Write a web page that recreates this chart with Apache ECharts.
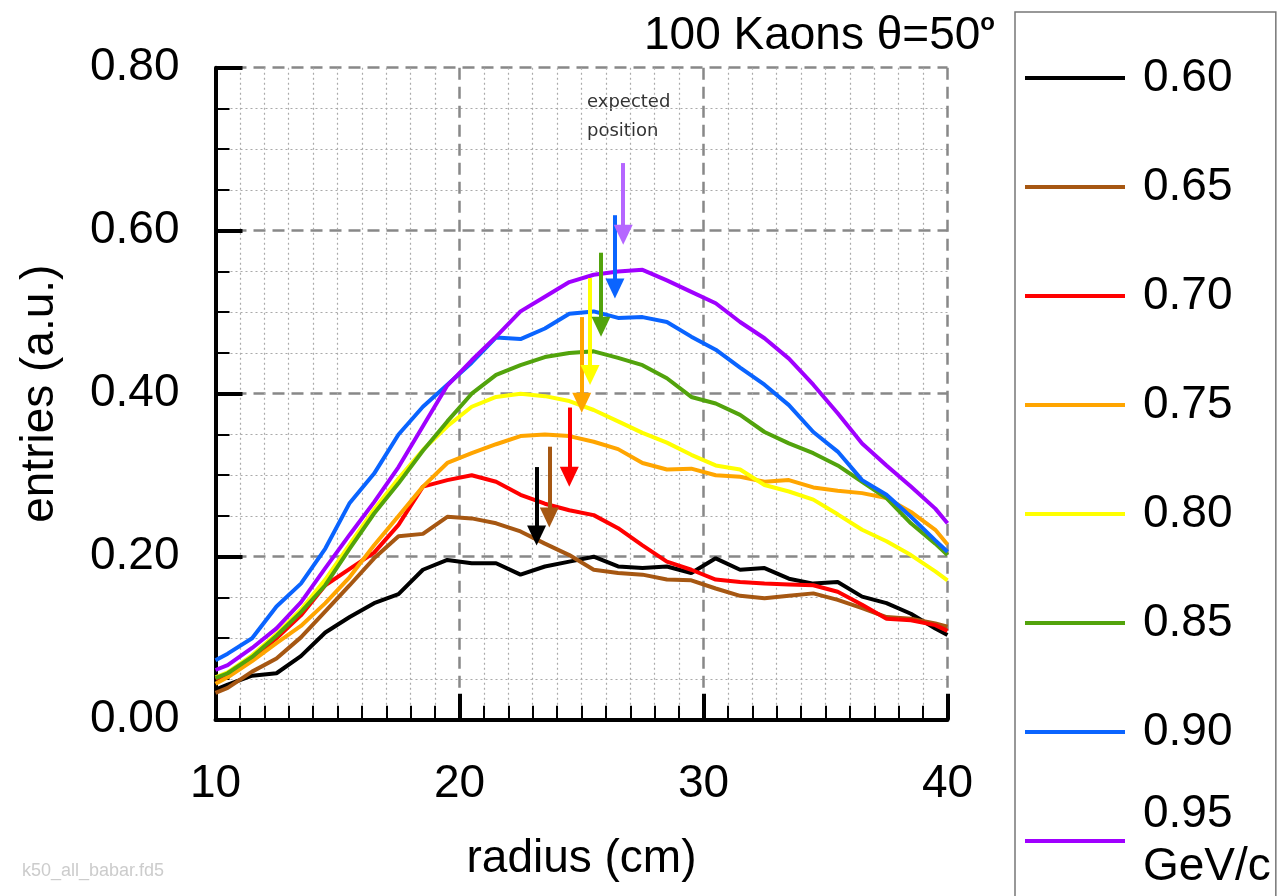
<!DOCTYPE html>
<html>
<head>
<meta charset="utf-8">
<script src="https://cdn.jsdelivr.net/npm/echarts@6/dist/echarts.min.js"></script>
<style>
html,body{margin:0;padding:0;background:#fff;}
#chart{width:1280px;height:896px;}
</style>
</head>
<body>
<div id="chart"></div>
<script>
// ---- data ----
const radius = [10,10.5,11.5,12.5,13.5,14.5,15.5,16.5,17.5,18.5,19.5,20.5,21.5,22.5,23.5,24.5,25.5,26.5,27.5,28.5,29.5,30.5,31.5,32.5,33.5,34.5,35.5,36.5,37.5,38.5,39.5,40];
const momenta = ['0.60','0.65','0.70','0.75','0.80','0.85','0.90','0.95'];
const unitLabel = 'GeV/c';
const p060 = [0.037,0.043,0.054,0.057,0.078,0.107,0.126,0.143,0.154,0.184,0.196,0.192,0.192,0.178,0.188,0.194,0.200,0.188,0.186,0.188,0.180,0.198,0.184,0.186,0.173,0.167,0.169,0.151,0.143,0.130,0.112,0.104];
const p065 = [0.033,0.039,0.059,0.075,0.101,0.133,0.165,0.198,0.225,0.228,0.249,0.247,0.241,0.231,0.216,0.202,0.184,0.180,0.178,0.172,0.171,0.161,0.152,0.149,0.152,0.155,0.147,0.137,0.126,0.124,0.118,0.114];
const p070 = [0.050,0.055,0.075,0.100,0.128,0.165,0.185,0.205,0.239,0.286,0.294,0.300,0.292,0.276,0.265,0.257,0.251,0.235,0.214,0.194,0.184,0.172,0.169,0.167,0.166,0.165,0.157,0.141,0.124,0.122,0.116,0.109];
const p075 = [0.044,0.052,0.072,0.094,0.115,0.143,0.175,0.214,0.250,0.286,0.315,0.327,0.338,0.348,0.350,0.348,0.341,0.332,0.315,0.307,0.308,0.300,0.298,0.292,0.294,0.285,0.281,0.278,0.272,0.255,0.233,0.215];
const p080 = [0.052,0.058,0.079,0.105,0.135,0.172,0.215,0.258,0.296,0.331,0.360,0.384,0.396,0.400,0.397,0.391,0.380,0.366,0.352,0.340,0.325,0.312,0.307,0.288,0.280,0.270,0.252,0.233,0.219,0.202,0.182,0.171];
const p085 = [0.051,0.057,0.077,0.103,0.132,0.165,0.210,0.253,0.290,0.330,0.366,0.400,0.423,0.435,0.445,0.450,0.452,0.444,0.435,0.419,0.396,0.388,0.374,0.353,0.339,0.327,0.312,0.292,0.272,0.241,0.216,0.202];
const p090 = [0.073,0.081,0.100,0.139,0.167,0.210,0.266,0.302,0.350,0.384,0.411,0.438,0.469,0.467,0.480,0.498,0.501,0.493,0.494,0.488,0.470,0.454,0.432,0.411,0.386,0.353,0.329,0.294,0.276,0.249,0.220,0.206];
const p095 = [0.061,0.067,0.088,0.112,0.144,0.186,0.227,0.267,0.310,0.360,0.410,0.441,0.470,0.501,0.519,0.537,0.546,0.550,0.552,0.539,0.525,0.511,0.488,0.468,0.443,0.411,0.376,0.339,0.312,0.286,0.259,0.241];
const seriesValues = [p060,p065,p070,p075,p080,p085,p090,p095];
// expected-position arrows (x in cm, shaft top and arrow end in entries)
const arrowX   = [23.16,23.68,24.50,25.01,25.35,25.80,26.37,26.71];
const arrowTop = [0.310,0.335,0.383,0.494,0.542,0.573,0.619,0.683];
const arrowEnd = [0.226,0.248,0.298,0.389,0.423,0.482,0.529,0.595];
const xTicks = [10,20,30,40];
const yTicks = [0.00,0.20,0.40,0.60,0.80];

// ---- style ----
const colors = ['#000000','#a65712','#ff0000','#ffa500','#ffff00','#52a30c','#0a64ff','#a000ff'];
const arrowColors = ['#000000','#a65712','#ff0000','#ffa500','#ffff00','#52a30c','#0a64ff','#b566ff'];
const FONT = "'Liberation Sans', Arial, sans-serif";

const chart = echarts.init(document.getElementById('chart'), null, {renderer:'canvas'});

const series = momenta.map((m, i) => ({
  name: m,
  type: 'line',
  data: radius.map((r, j) => [r, seriesValues[i][j]]),
  showSymbol: false,
  symbol: 'none',
  color: colors[i],
  lineStyle: {color: colors[i], width: 4},
  itemStyle: {color: colors[i]},
  clip: true,
  z: 2 + i * 0.01,
  animation: false,
  markLine: {
    silent: true,
    animation: false,
    symbol: ['none', 'triangle'],
    symbolSize: [19, 20],
    label: {show: false},
    lineStyle: {color: arrowColors[i], width: 4, type: 'solid'},
    itemStyle: {color: arrowColors[i]},
    emphasis: {disabled: true},
    data: [[{coord: [arrowX[i], arrowTop[i]]}, {coord: [arrowX[i], arrowEnd[i]]}]]
  }
}));

const legendData = momenta.map((m, i) => i === momenta.length - 1
  ? {name: m, textStyle: {lineHeight: 53, padding: [0, 0, 0, 13]}}
  : {name: m});

const option = {
  backgroundColor: '#ffffff',
  animation: false,
  title: {
    text: '{m|100 Kaons θ=50}{sup|o}',
    right: 280,
    top: 6,
    textStyle: {
      rich: {
        m: {fontSize: 46, fontFamily: FONT, color: '#000', fontWeight: 'normal', lineHeight: 50},
        sup: {fontSize: 24, fontFamily: FONT, color: '#000', verticalAlign: 'top', lineHeight: 24}
      }
    }
  },
  grid: {left: 215.5, top: 67.7, right: 332.5, bottom: 176.3, containLabel: false},
  legend: {
    orient: 'vertical',
    left: 1015,
    top: 12,
    height: 900,
    padding: [13, 5, 10, 10],
    borderColor: '#777',
    borderWidth: 1.5,
    itemWidth: 100,
    itemHeight: 4,
    itemGap: 3,
    itemTextGap: 18,
    icon: 'rect',
    selectedMode: false,
    data: legendData,
    formatter: function (name) {
      if (name === momenta[momenta.length - 1]) return name + '\n' + unitLabel;
      return name;
    },
    textStyle: {fontFamily: FONT, fontSize: 46, color: '#000', lineHeight: 106, padding: [0, 0, 0, 13]}
  },
  xAxis: {
    type: 'value',
    min: xTicks[0],
    max: xTicks[xTicks.length - 1],
    interval: 10,
    name: 'radius (cm)',
    nameLocation: 'middle',
    nameGap: 117,
    nameTextStyle: {fontFamily: FONT, fontSize: 46, color: '#000'},
    axisLine: {show: true, onZero: false, lineStyle: {color: '#000', width: 4}},
    axisTick: {show: true, inside: true, length: 26, lineStyle: {color: '#000', width: 4}},
    minorTick: {show: true, splitNumber: 10, length: 14, lineStyle: {color: '#000', width: 2}},
    axisLabel: {fontFamily: FONT, fontSize: 46, color: '#000', margin: 42,
      formatter: v => String(v)},
    splitLine: {show: true, lineStyle: {color: '#888', width: 2.5, type: [12, 7]}},
    minorSplitLine: {show: true, lineStyle: {color: '#aaa', width: 1.2, type: [2, 3]}}
  },
  yAxis: {
    type: 'value',
    min: yTicks[0],
    max: yTicks[yTicks.length - 1],
    interval: 0.2,
    name: 'entries (a.u.)',
    nameLocation: 'middle',
    nameGap: 152,
    nameTextStyle: {fontFamily: FONT, fontSize: 46, color: '#000'},
    axisLine: {show: true, onZero: false, lineStyle: {color: '#000', width: 4}},
    axisTick: {show: true, inside: true, length: 27, lineStyle: {color: '#000', width: 4}},
    minorTick: {show: true, splitNumber: 4, length: 14, lineStyle: {color: '#000', width: 2}},
    axisLabel: {fontFamily: FONT, fontSize: 46, color: '#000', margin: 36,
      formatter: v => v.toFixed(2)},
    splitLine: {show: true, lineStyle: {color: '#888', width: 2.5, type: [12, 7]}},
    minorSplitLine: {show: true, lineStyle: {color: '#aaa', width: 1.2, type: [2, 3]}}
  },
  graphic: [
    {type: 'text', left: 587, top: 88, silent: true,
     style: {text: 'expected\nposition', fill: '#333', font: "18px 'DejaVu Sans'", lineHeight: 29}},
    {type: 'text', left: 22, top: 862, silent: true,
     style: {text: 'k50_all_babar.fd5', fill: '#cccccc', font: "18px 'Liberation Sans'"}}
  ],
  series: series
};
chart.setOption(option);
</script>
</body>
</html>
